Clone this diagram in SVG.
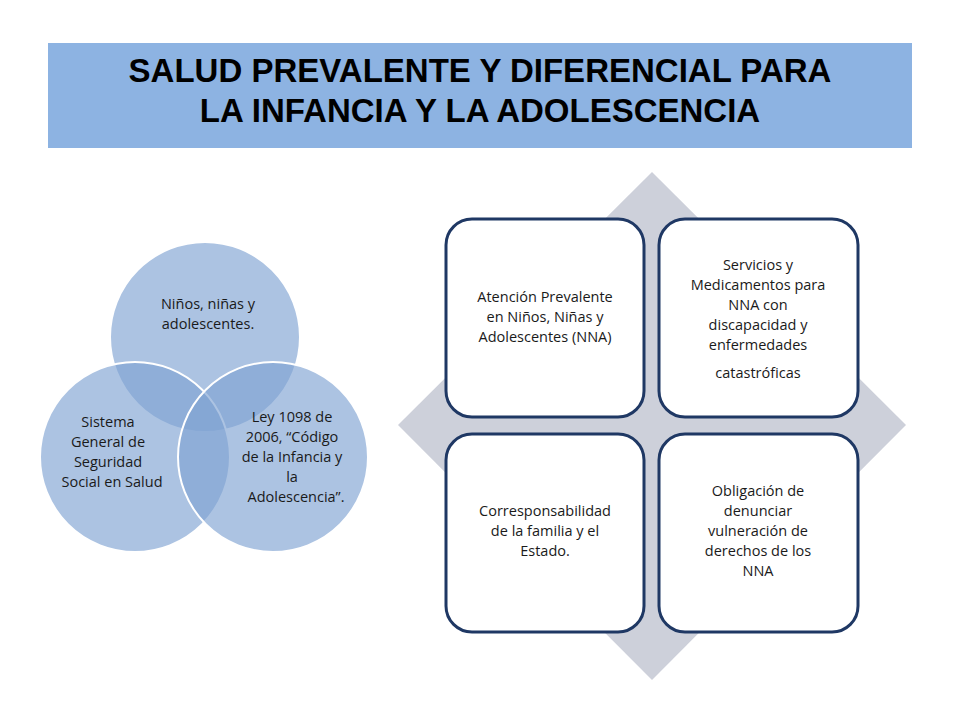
<svg xmlns="http://www.w3.org/2000/svg" width="960" height="720" viewBox="0 0 960 720">
<style>
.t{font-family:"Liberation Sans",Arial,sans-serif;font-weight:bold;font-size:33px;fill:#000;text-anchor:middle}
.l{font-family:"Open Sans","Liberation Sans",sans-serif;font-size:14.5px;fill:#1a1a1a;text-anchor:middle}
.c{fill:#7FA3D3;fill-opacity:0.65;stroke:#fff;stroke-width:2}
.b{fill:#fff;stroke:#1F3864;stroke-width:3}
</style>
<rect width="960" height="720" fill="#fff"/>
<g id="title">
<rect x="48" y="43" width="864" height="105" fill="#8DB3E2"/>
<text class="t" x="480" y="82">SALUD PREVALENTE Y DIFERENCIAL PARA</text>
<text class="t" x="480" y="122">LA INFANCIA Y LA ADOLESCENCIA</text>
</g>
<g id="venn">
<circle class="c" cx="205" cy="337" r="95"/>
<circle class="c" cx="135" cy="457" r="95"/>
<circle class="c" cx="273" cy="457" r="95"/>
<text class="l" x="208" y="309">Niños, niñas y</text>
<text class="l" x="208" y="329">adolescentes.</text>
<text class="l" x="108" y="427">Sistema</text>
<text class="l" x="108" y="447">General de</text>
<text class="l" x="108" y="467">Seguridad</text>
<text class="l" x="112" y="487">Social en Salud</text>
<text class="l" x="292" y="422">Ley 1098 de</text>
<text class="l" x="292" y="442">2006, “Código</text>
<text class="l" x="292" y="462">de la Infancia y</text>
<text class="l" x="292" y="482">la</text>
<text class="l" x="296" y="502">Adolescencia”.</text>
</g>
<g id="diamond"><polygon points="652,172 906,425 652,680 398,425" fill="#CDD0DA"/></g>
<g id="box1"><rect class="b" x="446" y="219" width="198" height="198" rx="26"/>
<text class="l" x="545" y="302">Atención Prevalente</text>
<text class="l" x="545" y="322">en Niños, Niñas y</text>
<text class="l" x="545" y="342">Adolescentes (NNA)</text></g>
<g id="box2"><rect class="b" x="659" y="219" width="199" height="198" rx="26"/>
<text class="l" x="758" y="270">Servicios y</text>
<text class="l" x="758" y="290">Medicamentos para</text>
<text class="l" x="758" y="310">NNA con</text>
<text class="l" x="758" y="330">discapacidad y</text>
<text class="l" x="758" y="350">enfermedades</text>
<text class="l" x="758" y="378">catastróficas</text></g>
<g id="box3"><rect class="b" x="446" y="434" width="198" height="198" rx="26"/>
<text class="l" x="545" y="516">Corresponsabilidad</text>
<text class="l" x="545" y="536">de la familia y el</text>
<text class="l" x="545" y="556">Estado.</text></g>
<g id="box4"><rect class="b" x="659" y="434" width="199" height="198" rx="26"/>
<text class="l" x="758" y="496">Obligación de</text>
<text class="l" x="758" y="516">denunciar</text>
<text class="l" x="758" y="536">vulneración de</text>
<text class="l" x="758" y="556">derechos de los</text>
<text class="l" x="758" y="576">NNA</text></g>
<g id="connectors"/>
</svg>
